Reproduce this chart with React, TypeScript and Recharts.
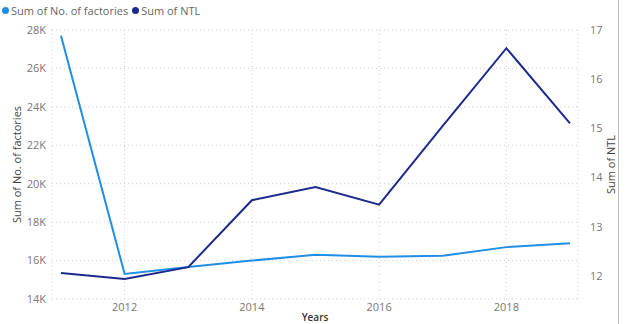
import React from 'react';
import {
  LineChart,
  Line,
  XAxis,
  YAxis,
  CartesianGrid,
  Legend,
} from 'recharts';

const years = [2011, 2012, 2013, 2014, 2015, 2016, 2017, 2018, 2019];
const factories = [27700, 15300, 15670, 16000, 16300, 16200, 16250, 16700, 16900];
const ntl = [12.06, 11.94, 12.18, 13.54, 13.81, 13.45, 15.05, 16.63, 15.1];

const yearTicks = [2012, 2014, 2016, 2018];
const factoryTicks = [14000, 16000, 18000, 20000, 22000, 24000, 26000, 28000];
const ntlTicks = [12, 13, 14, 15, 16, 17];

const FACTORY_COLOR = '#1f8ee6';
const NTL_COLOR = '#1b2a8c';
const FONT = '"Open Sans", "Noto Sans", sans-serif';

const data = years.map((year, i) => ({
  year,
  factories: factories[i],
  ntl: ntl[i],
}));

const legendItems = [
  { label: 'Sum of No. of factories', color: FACTORY_COLOR },
  { label: 'Sum of NTL', color: NTL_COLOR },
];

const renderLegend = () => (
  <div style={{ display: 'flex', alignItems: 'center', fontFamily: FONT, fontSize: 11, color: '#666' }}>
    {legendItems.map((item) => (
      <div key={item.label} style={{ display: 'flex', alignItems: 'center', marginRight: 4 }}>
        <span
          style={{
            width: 7,
            height: 7,
            borderRadius: '50%',
            background: item.color,
            display: 'inline-block',
            marginRight: 2,
          }}
        />
        <span>{item.label}</span>
      </div>
    ))}
  </div>
);

const tickStyle = { fill: '#777', fontSize: 11, fontFamily: FONT };
const titleStyle = { fill: '#444', fontSize: 11, fontFamily: FONT };

export default function App() {
  return (
    <div style={{ position: 'absolute', left: 0, top: 0, width: 627, height: 324, background: '#fff', overflow: 'hidden' }}>
      <LineChart width={627} height={324} data={data} margin={{ top: 10, right: 0, bottom: 0, left: 0 }}>
        <Legend
          verticalAlign="top"
          align="left"
          height={20}
          content={renderLegend}
          wrapperStyle={{ top: 3, left: 2 }}
        />
        <CartesianGrid yAxisId="left" stroke="#cfcfcf" strokeDasharray="1 3" />
        <XAxis
          dataKey="year"
          type="number"
          domain={[2011, 2019]}
          ticks={yearTicks}
          padding={{ left: 9, right: 8 }}
          height={25}
          axisLine={false}
          tickLine={false}
          tickSize={0}
          tickMargin={4}
          tick={tickStyle}
          label={{ value: 'Years', position: 'insideBottom', offset: 3, style: { ...titleStyle, fontSize: 10, fill: '#333', fontWeight: 600 } }}
        />
        <YAxis
          yAxisId="left"
          domain={[14000, 28000]}
          ticks={factoryTicks}
          width={52}
          axisLine={false}
          tickLine={false}
          tickSize={0}
          tickMargin={6}
          tick={tickStyle}
          tickFormatter={(v: number) => `${v / 1000}K`}
          label={{ value: 'Sum of No. of factories', angle: -90, position: 'insideLeft', offset: 17, style: { ...titleStyle, textAnchor: 'middle' } }}
        />
        <YAxis
          yAxisId="right"
          orientation="right"
          domain={[11.532, 17]}
          ticks={ntlTicks}
          width={49}
          axisLine={false}
          tickLine={false}
          tickSize={0}
          tickMargin={12}
          tick={tickStyle}
          label={{ value: 'Sum of NTL', angle: -90, position: 'insideRight', offset: 16, style: { ...titleStyle, textAnchor: 'middle' } }}
        />
        <Line
          yAxisId="left"
          dataKey="factories"
          stroke={FACTORY_COLOR}
          strokeWidth={2}
          dot={false}
          activeDot={false}
          isAnimationActive={false}
        />
        <Line
          yAxisId="right"
          dataKey="ntl"
          stroke={NTL_COLOR}
          strokeWidth={2}
          dot={false}
          activeDot={false}
          isAnimationActive={false}
        />
      </LineChart>
      <div style={{ position: 'absolute', left: 618, top: 0, width: 1, height: 324, background: '#bdbdbd' }} />
    </div>
  );
}
